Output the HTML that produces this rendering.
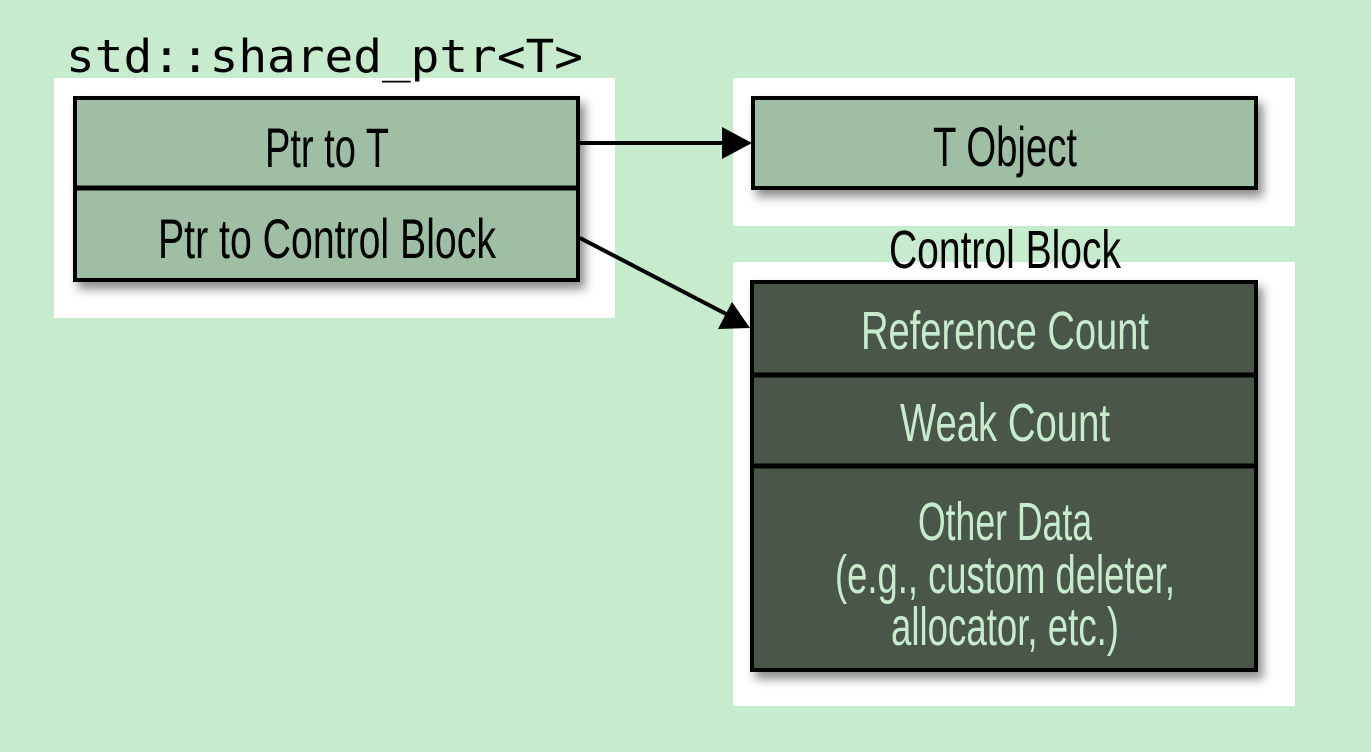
<!DOCTYPE html>
<html><head><meta charset="utf-8"><style>
html,body{margin:0;padding:0;background:#c7ebcd;}
svg{display:block}
</style></head><body>
<svg width="1371" height="752" viewBox="0 0 1371 752" xmlns="http://www.w3.org/2000/svg">
<defs>
<filter id="sh" x="-10%" y="-10%" width="130%" height="140%">
<feDropShadow dx="5" dy="7" stdDeviation="5" flood-color="#000" flood-opacity="0.45"/>
</filter>
</defs>
<rect width="1371" height="752" fill="#c7ebcd"/>
<rect x="54" y="78" width="561" height="240" fill="#fff"/>
<rect x="733" y="78" width="562" height="148" fill="#fff"/>
<rect x="733" y="262" width="562" height="444" fill="#fff"/>

<text x="66" y="72" font-family="DejaVu Sans Mono, Liberation Mono, monospace" font-size="45" textLength="517" lengthAdjust="spacingAndGlyphs" fill="#000">std::shared_ptr&lt;T&gt;</text>

<g filter="url(#sh)">
<rect x="75" y="98" width="503" height="182" fill="#9ebfa4" stroke="#000" stroke-width="4"/>
</g>
<line x1="75" y1="188" x2="578" y2="188" stroke="#000" stroke-width="5"/>
<g font-family="Liberation Sans Narrow, Liberation Sans, sans-serif" font-size="56" text-anchor="middle" fill="#000">
<text x="327" y="167" textLength="124" lengthAdjust="spacingAndGlyphs">Ptr to T</text>
<text x="327" y="258" textLength="338" lengthAdjust="spacingAndGlyphs">Ptr to Control Block</text>
</g>

<g filter="url(#sh)">
<rect x="753" y="98" width="503" height="90" fill="#9ebfa4" stroke="#000" stroke-width="4"/>
</g>
<text x="1005" y="166" font-family="Liberation Sans Narrow, Liberation Sans, sans-serif" font-size="56" text-anchor="middle" textLength="144" lengthAdjust="spacingAndGlyphs">T Object</text>

<text x="1005" y="268" font-family="Liberation Sans Narrow, Liberation Sans, sans-serif" font-size="54" text-anchor="middle" textLength="232" lengthAdjust="spacingAndGlyphs">Control Block</text>

<g filter="url(#sh)">
<rect x="752" y="282" width="504" height="388" fill="#48574a" stroke="#000" stroke-width="4"/>
</g>
<line x1="752" y1="375" x2="1256" y2="375" stroke="#000" stroke-width="5"/>
<line x1="752" y1="466" x2="1256" y2="466" stroke="#000" stroke-width="5"/>
<g font-family="Liberation Sans Narrow, Liberation Sans, sans-serif" font-size="54" text-anchor="middle" fill="#c7ebcd">
<text x="1005" y="349" textLength="288" lengthAdjust="spacingAndGlyphs">Reference Count</text>
<text x="1005" y="441" textLength="210" lengthAdjust="spacingAndGlyphs">Weak Count</text>
<text x="1005" y="540" textLength="174" lengthAdjust="spacingAndGlyphs">Other Data</text>
<text x="1005" y="593" textLength="340" lengthAdjust="spacingAndGlyphs">(e.g., custom deleter,</text>
<text x="1005" y="645" textLength="228" lengthAdjust="spacingAndGlyphs">allocator, etc.)</text>
</g>

<line x1="580" y1="143" x2="728" y2="143" stroke="#000" stroke-width="4"/>
<polygon points="752,143 722,127 722,159" fill="#000"/>
<line x1="580" y1="238" x2="730" y2="316" stroke="#000" stroke-width="4"/>
<polygon points="750,328 718,329 732,302" fill="#000"/>
</svg>
</body></html>
